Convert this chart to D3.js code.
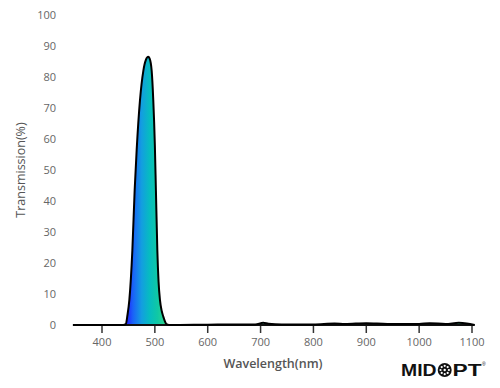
<!DOCTYPE html>
<meta charset="utf-8">
<style>
body { margin: 0; background: #fff; }
.tick-label { font: 11px "Open Sans", sans-serif; fill: #666; }
.axis-title { font: 12.5px "Open Sans", sans-serif; fill: #555; }
</style>
<body>
<div id="main"></div>
<script src="https://d3js.org/d3.v7.min.js"></script>
<script>
// spectrum
var wavelength = [345, 440, 445, 448, 451.7, 457.4, 461.8, 465.6, 471.9, 478.2, 483, 487.5, 490, 494, 497, 500, 502, 504.7, 507, 509.7, 513, 516, 522, 530,
	600, 650, 690, 705, 715, 740, 800, 840, 860, 900, 940, 1000, 1020, 1050, 1075, 1090, 1105];
var transmission = [0, 0, 0.3, 3, 8, 24, 43.5, 56.5, 72.6, 82, 85.5, 86.5, 86, 82, 72.6, 58, 43.5, 24, 14, 8, 4.5, 2.7, 0.3, 0,
	0.1, 0.2, 0.2, 0.7, 0.4, 0.2, 0.2, 0.5, 0.3, 0.6, 0.3, 0.3, 0.6, 0.3, 0.7, 0.5, 0];
var xTicks = [400, 500, 600, 700, 800, 900, 1000, 1100];
var yTicks = [0, 10, 20, 30, 40, 50, 60, 70, 80, 90, 100];

var width = 500, height = 388;
var svg = d3.select("#main").append("svg")
	.attr("width", width)
	.attr("height", height);

var x = d3.scaleLinear().domain([400, 1100]).range([102, 472]);
var y = d3.scaleLinear().domain([0, 100]).range([325, 15]);

var data = wavelength.map(function(w, i) { return {w: w, t: transmission[i]}; });

// gradient across the pass band
var grad = svg.append("defs").append("linearGradient")
	.attr("id", "band")
	.attr("gradientUnits", "userSpaceOnUse")
	.attr("x1", x(445)).attr("x2", x(520))
	.attr("y1", 0).attr("y2", 0);
[["0", "#2418ff"], ["0.18", "#1a62f8"], ["0.4", "#139ee0"], ["0.6", "#06bcc0"], ["0.8", "#10c8a4"], ["1", "#30d48c"]].forEach(function(s) {
	grad.append("stop").attr("offset", s[0]).attr("stop-color", s[1]);
});

var area = d3.area()
	.x(function(d) { return x(d.w); })
	.y0(y(0))
	.y1(function(d) { return y(d.t); })
	.curve(d3.curveMonotoneX);

var line = d3.line()
	.x(function(d) { return x(d.w); })
	.y(function(d) { return y(d.t); })
	.curve(d3.curveMonotoneX);

svg.append("path")
	.datum(data)
	.attr("fill", "url(#band)")
	.attr("d", area);

// ticks under the base line
svg.selectAll(".xtick")
	.data(xTicks)
	.enter().append("line")
	.attr("x1", function(d) { return x(d); })
	.attr("x2", function(d) { return x(d); })
	.attr("y1", y(0))
	.attr("y2", y(0) + 8)
	.attr("stroke", "#333")
	.attr("stroke-width", 1.5);

svg.append("line")
	.attr("x1", x(345)).attr("x2", x(1105))
	.attr("y1", y(0)).attr("y2", y(0))
	.attr("stroke", "#111")
	.attr("stroke-width", 2);

svg.append("path")
	.datum(data)
	.attr("fill", "none")
	.attr("stroke", "#000")
	.attr("stroke-width", 2)
	.attr("stroke-linejoin", "round")
	.attr("d", line);

svg.selectAll(".xlab")
	.data(xTicks)
	.enter().append("text")
	.attr("class", "tick-label")
	.attr("x", function(d) { return x(d); })
	.attr("y", 346)
	.attr("text-anchor", "middle")
	.text(function(d) { return d; });

svg.selectAll(".ylab")
	.data(yTicks)
	.enter().append("text")
	.attr("class", "tick-label")
	.attr("x", 56)
	.attr("y", function(d) { return y(d) + 4; })
	.attr("text-anchor", "end")
	.text(function(d) { return d; });

svg.append("text")
	.attr("class", "axis-title")
	.attr("transform", "translate(25,170) rotate(-90)")
	.attr("text-anchor", "middle")
	.text("Transmission(%)");

svg.append("text")
	.attr("class", "axis-title")
	.attr("x", 273)
	.attr("y", 368)
	.attr("text-anchor", "middle")
	.style("font-weight", 600)
	.text("Wavelength(nm)");

// logo
var logo = svg.append("g");
logo.append("text")
	.attr("x", 401).attr("y", 376)
	.attr("textLength", 35.5)
	.attr("lengthAdjust", "spacingAndGlyphs")
	.attr("style", "font: bold 16px 'Liberation Sans', sans-serif; fill: #111;")
	.text("MID");
logo.append("circle")
	.attr("cx", 444.7).attr("cy", 370).attr("r", 7)
	.attr("fill", "#111");
d3.range(8).forEach(function(i) {
	var a = i * Math.PI / 4;
	logo.append("circle")
		.attr("cx", 444.7 + 4.2 * Math.cos(a))
		.attr("cy", 370 + 4.2 * Math.sin(a))
		.attr("r", 1.1)
		.attr("fill", "#fff");
});
logo.append("circle").attr("cx", 444.7).attr("cy", 370).attr("r", 1.2).attr("fill", "#fff");
logo.append("text")
	.attr("x", 452.5).attr("y", 376)
	.attr("textLength", 29)
	.attr("lengthAdjust", "spacingAndGlyphs")
	.attr("style", "font: bold 16px 'Liberation Sans', sans-serif; fill: #111;")
	.text("PT");
logo.append("text")
	.attr("x", 482).attr("y", 366)
	.attr("style", "font: 5px 'Liberation Sans', sans-serif; fill: #111;")
	.text("®");
</script>
</body>
